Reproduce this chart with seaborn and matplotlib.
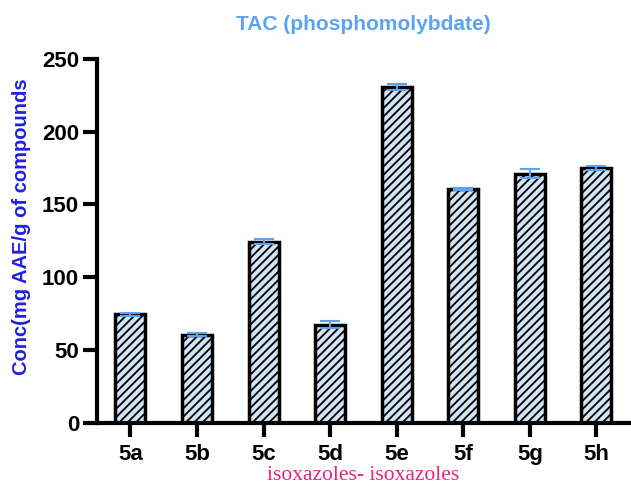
import pandas as pd
import matplotlib
matplotlib.use("Agg")
import matplotlib.pyplot as plt
import seaborn as sns

compounds = ["5a", "5b", "5c", "5d", "5e", "5f", "5g", "5h"]
tac_values = [74.5, 60.5, 124.5, 67.5, 230.5, 160.5, 171.0, 175.0]
tac_errors = [1.0, 1.2, 1.5, 2.5, 2.2, 0.8, 3.0, 1.5]

df = pd.DataFrame({"compound": compounds, "tac": tac_values})

sns.set_style("ticks")
plt.rcParams["font.family"] = ["Liberation Sans", "DejaVu Sans"]
plt.rcParams["hatch.linewidth"] = 1.3

fig = plt.figure(figsize=(6.31, 4.86), dpi=100)
ax = fig.add_axes([0.154, 0.130, 0.844, 0.749])

sns.barplot(data=df, x="compound", y="tac", ax=ax, color="#d2e3f3",
            width=0.45, edgecolor="black", linewidth=2.5, hatch="////",
            errorbar=None, saturation=1)
ax.errorbar(range(len(compounds)), tac_values, yerr=tac_errors, fmt="none",
            ecolor="#5ba3f0", elinewidth=1.5, capsize=7, capthick=1.5, zorder=5)

ax.set_xlim(-0.5, 7.5)
ax.set_ylim(0, 250)
ax.set_yticks([0, 50, 100, 150, 200, 250])
sns.despine(ax=ax)
for s in ["left", "bottom"]:
    ax.spines[s].set_linewidth(3)
    ax.spines[s].set_color("black")
ax.tick_params(width=3, length=10, labelsize=16, direction="out",
               colors="black", pad=3)
ax.tick_params(axis="x", pad=5)
for lab in ax.get_xticklabels() + ax.get_yticklabels():
    lab.set_fontweight("bold")

ax.set_title("TAC (phosphomolybdate)", color="#5ba3f0", fontsize=15,
             fontweight="bold", pad=21)
ax.set_ylabel("Conc(mg AAE/g of compounds", color="#2020e0", fontsize=14.5,
              fontweight="bold", labelpad=9)
ax.yaxis.set_label_coords(-0.125, 0.54)
ax.set_xlabel("isoxazoles- isoxazoles", color="#e8247c", fontsize=15.5,
              family=["Liberation Serif", "DejaVu Serif"], labelpad=1)

fig.savefig("out.png", dpi=100)
